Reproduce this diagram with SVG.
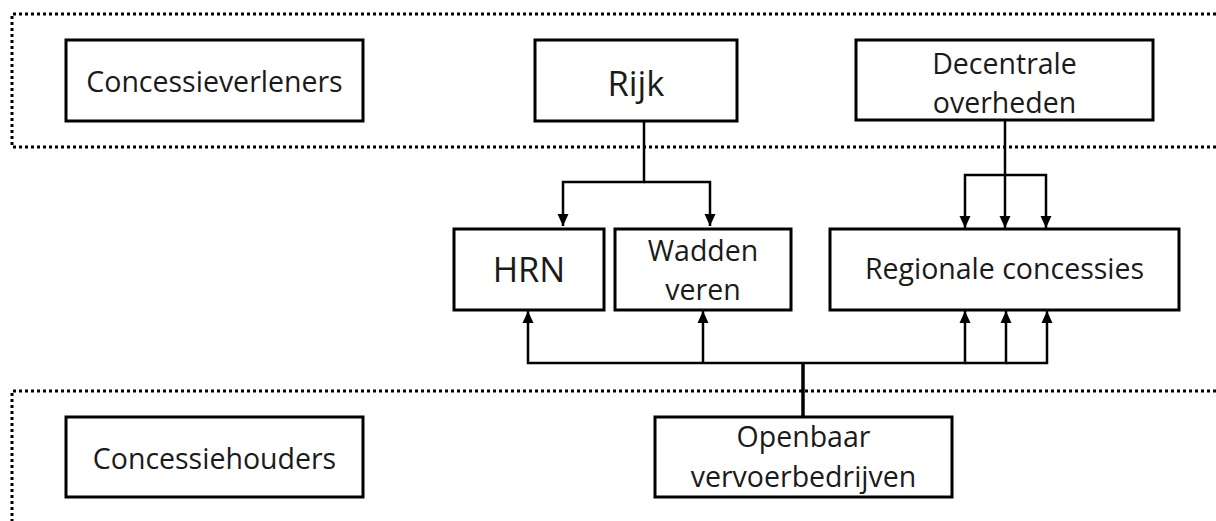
<svg xmlns="http://www.w3.org/2000/svg" width="1216" height="521" viewBox="0 0 1216 521">
<style>
.box{fill:#fff;stroke:#000;stroke-width:3}
.t{font-family:"Open Sans","Liberation Sans",sans-serif;font-size:28.5px;fill:#1a1a1a;text-anchor:middle}
.big{font-size:34.5px}
.c{fill:none;stroke:#000;stroke-width:2.5}
.dot{fill:none;stroke:#000;stroke-width:3;stroke-dasharray:3 3}
</style>
<defs>
<marker id="ah" viewBox="0 0 12 12" refX="12" refY="6" markerWidth="12" markerHeight="12" markerUnits="userSpaceOnUse" orient="auto">
<path d="M0,0.5 L12,6 L0,11.5 z" fill="#000"/>
</marker>
</defs>
<g id="zones">
<path class="dot" d="M1216,14 H12 V147 H1216"/>
<path class="dot" d="M1216,391 H12 V521"/>
</g>
<g id="connectors">
<path class="c" d="M644,121 V182 H563 V226" marker-end="url(#ah)"/>
<path class="c" d="M644,182 H710 V226" marker-end="url(#ah)"/>
<path class="c" d="M1005,120 V175 H965 V228" marker-end="url(#ah)"/>
<path class="c" d="M1005,175 V228" marker-end="url(#ah)"/>
<path class="c" d="M1005,175 H1046 V228" marker-end="url(#ah)"/>
<path class="c" d="M803,363 H528 V311" marker-end="url(#ah)"/>
<path class="c" d="M703,363 V311" marker-end="url(#ah)"/>
<path class="c" d="M803,363 H965 V311" marker-end="url(#ah)"/>
<path class="c" d="M965,363 H1006 V311" marker-end="url(#ah)"/>
<path class="c" d="M1006,363 H1047 V311" marker-end="url(#ah)"/>
<path class="c" d="M803,417 V362" style="stroke-width:3.5"/>
</g>
<g id="concessieverleners">
<rect class="box" x="66" y="40" width="297" height="81"/>
<text class="t" x="214.5" y="92">Concessieverleners</text>
</g>
<g id="rijk">
<rect class="box" x="535" y="40" width="202" height="81"/>
<text class="t big" x="636" y="96">Rijk</text>
</g>
<g id="decentrale">
<rect class="box" x="856" y="40" width="297" height="80"/>
<text class="t" x="1004.5" y="74">Decentrale</text>
<text class="t" x="1004.5" y="113">overheden</text>
</g>
<g id="hrn">
<rect class="box" x="454" y="229" width="150" height="81"/>
<text class="t big" x="529" y="282">HRN</text>
</g>
<g id="wadden">
<rect class="box" x="615" y="229" width="176" height="81"/>
<text class="t" x="703" y="261">Wadden</text>
<text class="t" x="703" y="300">veren</text>
</g>
<g id="regionale">
<rect class="box" x="830" y="229" width="349" height="81"/>
<text class="t" x="1004.5" y="279">Regionale concessies</text>
</g>
<g id="concessiehouders">
<rect class="box" x="66" y="417" width="297" height="80"/>
<text class="t" x="214.5" y="469">Concessiehouders</text>
</g>
<g id="openbaar">
<rect class="box" x="655" y="417" width="297" height="80"/>
<text class="t" x="803.5" y="447">Openbaar</text>
<text class="t" x="803.5" y="487">vervoerbedrijven</text>
</g>
</svg>
